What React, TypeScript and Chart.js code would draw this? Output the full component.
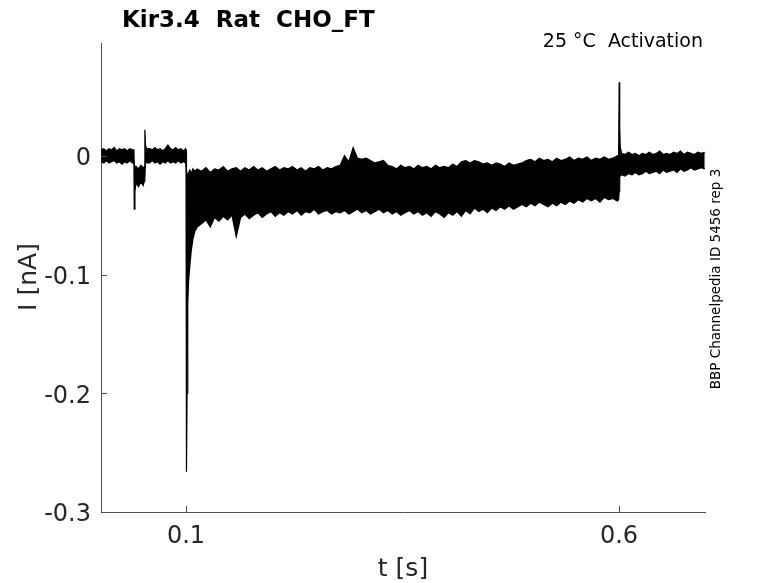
import React, { useEffect, useRef } from 'react';
import { Chart, registerables } from 'chart.js';

Chart.register(...registerables);

const FONT = "'DejaVu Sans', sans-serif";
const AXIS_COLOR = '#4d4d4d';
const TEXT_COLOR = '#262626';

// sample times [s]
const times = [
  // holding
  0.002, 0.005, 0.008, 0.011, 0.014, 0.017, 0.02, 0.023, 0.026, 0.029, 0.032, 0.035, 0.038,
  // pre-pulse
  0.0398, 0.0402, 0.041, 0.0425, 0.045, 0.048, 0.0505, 0.052, 0.0525, 0.0532, 0.055,
  // holding again
  0.058, 0.061, 0.064, 0.067, 0.07, 0.073, 0.076, 0.079, 0.082, 0.085, 0.088, 0.091, 0.094, 0.097, 0.0995,
  // step onset
  0.1, 0.1005, 0.1012, 0.102, 0.103, 0.1045, 0.106, 0.108, 0.11,
  // step
  0.113, 0.118, 0.123, 0.128, 0.133, 0.138, 0.143, 0.148, 0.153, 0.158,
  0.163, 0.168, 0.173, 0.178, 0.183, 0.188, 0.193, 0.198, 0.203, 0.208,
  0.213, 0.218, 0.223, 0.228, 0.233, 0.238, 0.243, 0.248, 0.253, 0.258,
  0.263, 0.268, 0.273, 0.278, 0.283, 0.288, 0.293, 0.298, 0.303, 0.308,
  0.313, 0.318, 0.323, 0.328, 0.333, 0.338, 0.343, 0.348, 0.353, 0.358,
  0.363, 0.368, 0.373, 0.378, 0.383, 0.388, 0.393, 0.398, 0.403, 0.408,
  0.413, 0.418, 0.423, 0.428, 0.433, 0.438, 0.443, 0.448, 0.453, 0.458,
  0.463, 0.468, 0.473, 0.478, 0.483, 0.488, 0.493, 0.498, 0.503, 0.508,
  0.513, 0.518, 0.523, 0.528, 0.533, 0.538, 0.543, 0.548, 0.553, 0.558,
  0.563, 0.568, 0.573, 0.578, 0.583, 0.588, 0.593, 0.598,
  // step offset
  0.5995, 0.6002, 0.6008, 0.6015,
  // tail
  0.603, 0.607, 0.611, 0.615, 0.619, 0.623, 0.627, 0.631, 0.635, 0.639,
  0.643, 0.647, 0.651, 0.655, 0.659, 0.663, 0.667, 0.671, 0.675, 0.679,
  0.683, 0.687, 0.691, 0.695, 0.699,
];

// top edge of the overlaid sweeps [nA]
const upperEdge = [
  0.005, 0.006, 0.004, 0.006, 0.005, 0.007, 0.004, 0.006, 0.005, 0.006, 0.004, 0.006, 0.005,
  0.005, -0.008, -0.01, -0.009, -0.011, -0.008, -0.01, -0.009, 0.022, 0.008, 0.006,
  0.006, 0.005, 0.007, 0.005, 0.006, 0.004, 0.006, 0.009, 0.006, 0.005, 0.007, 0.005, 0.006, 0.004, 0.006,
  0.005, -0.012, -0.016, -0.018, -0.014, -0.012, -0.015, -0.011, -0.013,
  -0.011, -0.013, -0.01, -0.014, -0.011, -0.012, -0.009, -0.013, -0.011, -0.01,
  -0.013, -0.01, -0.012, -0.009, -0.012, -0.01, -0.013, -0.011, -0.009, -0.012,
  -0.01, -0.011, -0.009, -0.012, -0.01, -0.013, -0.01, -0.011, -0.009, -0.012,
  -0.01, -0.011, -0.009, -0.008, 0.0, -0.005, 0.007, -0.002, -0.003, -0.002,
  -0.004, -0.006, -0.005, -0.004, -0.008, -0.009, -0.011, -0.008, -0.01, -0.009,
  -0.011, -0.008, -0.01, -0.009, -0.011, -0.008, -0.01, -0.009, -0.01, -0.007,
  -0.009, -0.005, -0.004, -0.006, -0.004, -0.005, -0.007, -0.006, -0.008, -0.006,
  -0.007, -0.009, -0.006, -0.008, -0.007, -0.006, -0.004, -0.003, -0.005, -0.002,
  -0.004, -0.003, -0.005, -0.002, -0.004, -0.003, -0.001, -0.004, -0.002, -0.003,
  -0.001, -0.004, -0.002, -0.003, -0.001, -0.003, -0.002, 0.0,
  -0.001, 0.062, 0.025, 0.007,
  0.002, 0.001, 0.003, 0.001, 0.002, 0.0, 0.002, 0.001, 0.003, 0.001,
  0.002, 0.004, 0.001, 0.002, 0.001, 0.003, 0.002, 0.004, 0.001, 0.003,
  0.002, 0.001, 0.003, 0.002, 0.003,
];

// bottom edge of the overlaid sweeps [nA]
const lowerEdge = [
  -0.005, -0.006, -0.004, -0.006, -0.005, -0.004, -0.006, -0.005, -0.007, -0.005, -0.006, -0.004, -0.006,
  -0.005, -0.045, -0.03, -0.022, -0.026, -0.022, -0.025, -0.021, -0.018, -0.004, -0.006,
  -0.006, -0.004, -0.006, -0.005, -0.007, -0.005, -0.006, -0.004, -0.006, -0.005, -0.006, -0.004, -0.006, -0.005, -0.006,
  -0.01, -0.266, -0.2, -0.125, -0.105, -0.092, -0.08, -0.07, -0.064,
  -0.06, -0.057, -0.054, -0.06, -0.052, -0.055, -0.051, -0.054, -0.05, -0.068,
  -0.052, -0.049, -0.053, -0.05, -0.048, -0.052, -0.049, -0.047, -0.051, -0.048,
  -0.05, -0.047, -0.049, -0.046, -0.05, -0.047, -0.048, -0.045, -0.049, -0.047,
  -0.046, -0.049, -0.047, -0.048, -0.046, -0.049, -0.047, -0.045, -0.048, -0.046,
  -0.049, -0.047, -0.045, -0.048, -0.046, -0.049, -0.047, -0.05, -0.048, -0.046,
  -0.049, -0.047, -0.05, -0.048, -0.051, -0.047, -0.049, -0.052, -0.048, -0.05,
  -0.047, -0.051, -0.046, -0.049, -0.044, -0.047, -0.045, -0.048, -0.044, -0.046,
  -0.043, -0.045, -0.042, -0.045, -0.043, -0.041, -0.043, -0.04, -0.042, -0.039,
  -0.041, -0.043, -0.04, -0.042, -0.039, -0.041, -0.038, -0.04, -0.037, -0.039,
  -0.036, -0.038, -0.036, -0.039, -0.035, -0.037, -0.036, -0.038,
  -0.037, -0.03, -0.018, -0.017,
  -0.016, -0.017, -0.015, -0.016, -0.014, -0.016, -0.015, -0.013, -0.015, -0.014,
  -0.013, -0.015, -0.012, -0.014, -0.013, -0.012, -0.014, -0.011, -0.013, -0.012,
  -0.01, -0.012, -0.011, -0.01, -0.011,
];

const xTicks = [0.1, 0.6];
const xTickLabels = ['0.1', '0.6'];
const yTicks = [-0.3, -0.2, -0.1, 0];
const yTickLabels = ['-0.3', '-0.2', '-0.1', '0'];

const titleText = 'Kir3.4  Rat  CHO_FT';
const conditionText = '25 °C  Activation';
const sourceText = 'BBP Channelpedia ID 5456 rep 3';

const decorations = {
  id: 'decorations',
  afterDraw(chart: any) {
    const { ctx, chartArea, scales } = chart;
    ctx.save();

    // inward ticks
    ctx.strokeStyle = AXIS_COLOR;
    ctx.lineWidth = 1;
    xTicks.forEach((v) => {
      const px = Math.round(scales.x.getPixelForValue(v)) + 0.5;
      ctx.beginPath();
      ctx.moveTo(px, chartArea.bottom);
      ctx.lineTo(px, chartArea.bottom - 6);
      ctx.stroke();
    });
    yTicks.forEach((v) => {
      const py = Math.round(scales.y.getPixelForValue(v)) + 0.5;
      ctx.beginPath();
      ctx.moveTo(chartArea.left, py);
      ctx.lineTo(chartArea.left + 6, py);
      ctx.stroke();
    });

    ctx.fillStyle = '#000';
    ctx.textBaseline = 'alphabetic';

    ctx.font = `bold 23px ${FONT}`;
    ctx.textAlign = 'left';
    ctx.fillText(titleText, 122, 27);

    ctx.font = `19px ${FONT}`;
    ctx.textAlign = 'right';
    ctx.fillText(conditionText, 703, 47);

    ctx.fillStyle = TEXT_COLOR;
    ctx.font = `25px ${FONT}`;
    ctx.textAlign = 'center';
    ctx.fillText('t [s]', 403, 576);

    ctx.save();
    ctx.translate(36, 277);
    ctx.rotate(-Math.PI / 2);
    ctx.fillText('I [nA]', 0, 0);
    ctx.restore();

    ctx.fillStyle = '#000';
    ctx.save();
    ctx.translate(720, 279);
    ctx.rotate(-Math.PI / 2);
    ctx.font = `13.5px ${FONT}`;
    ctx.fillText(sourceText, 0, 0);
    ctx.restore();

    ctx.restore();
  },
};

export default function App() {
  const canvasRef = useRef<HTMLCanvasElement>(null);

  useEffect(() => {
    document.body.style.margin = '0';
    if (!canvasRef.current) return;

    const toPoints = (vals: number[]) => times.map((t, i) => ({ x: t, y: vals[i] }));

    const chart = new Chart(canvasRef.current, {
      type: 'line',
      data: {
        datasets: [
          {
            data: toPoints(upperEdge),
            borderColor: '#000',
            backgroundColor: '#000',
            borderWidth: 1.2,
            pointRadius: 0,
            tension: 0,
            fill: '+1',
          },
          {
            data: toPoints(lowerEdge),
            borderColor: '#000',
            borderWidth: 1.2,
            pointRadius: 0,
            tension: 0,
            fill: false,
          },
        ],
      },
      options: {
        animation: false,
        responsive: true,
        maintainAspectRatio: false,
        layout: { padding: { top: 43, right: 73, left: 0, bottom: 0 } },
        plugins: {
          legend: { display: false },
          tooltip: { enabled: false },
          title: { display: false },
        },
        scales: {
          x: {
            type: 'linear',
            min: 0.0018,
            max: 0.6993,
            grid: { drawOnChartArea: false, drawTicks: false },
            border: { display: true, color: AXIS_COLOR, width: 1 },
            afterBuildTicks: (scale: any) => {
              scale.ticks = xTicks.map((v) => ({ value: v }));
            },
            afterFit: (scale: any) => {
              scale.height = 71;
            },
            ticks: {
              autoSkip: false,
              maxRotation: 0,
              padding: 10,
              color: TEXT_COLOR,
              font: { family: FONT, size: 24 },
              callback: (_v: any, i: number) => xTickLabels[i],
            },
          },
          y: {
            type: 'linear',
            min: -0.3,
            max: 0.095,
            grid: { drawOnChartArea: false, drawTicks: false },
            border: { display: true, color: AXIS_COLOR, width: 1 },
            afterBuildTicks: (scale: any) => {
              scale.ticks = yTicks.map((v) => ({ value: v }));
            },
            afterFit: (scale: any) => {
              scale.width = 101;
            },
            ticks: {
              autoSkip: false,
              padding: 10,
              labelOffset: 3,
              color: TEXT_COLOR,
              font: { family: FONT, size: 24 },
              callback: (_v: any, i: number) => yTickLabels[i],
            },
          },
        },
      },
      plugins: [decorations],
    });

    return () => chart.destroy();
  }, []);

  return (
    <div style={{ position: 'relative', width: 778, height: 583, background: '#fff' }}>
      <canvas ref={canvasRef} />
    </div>
  );
}
